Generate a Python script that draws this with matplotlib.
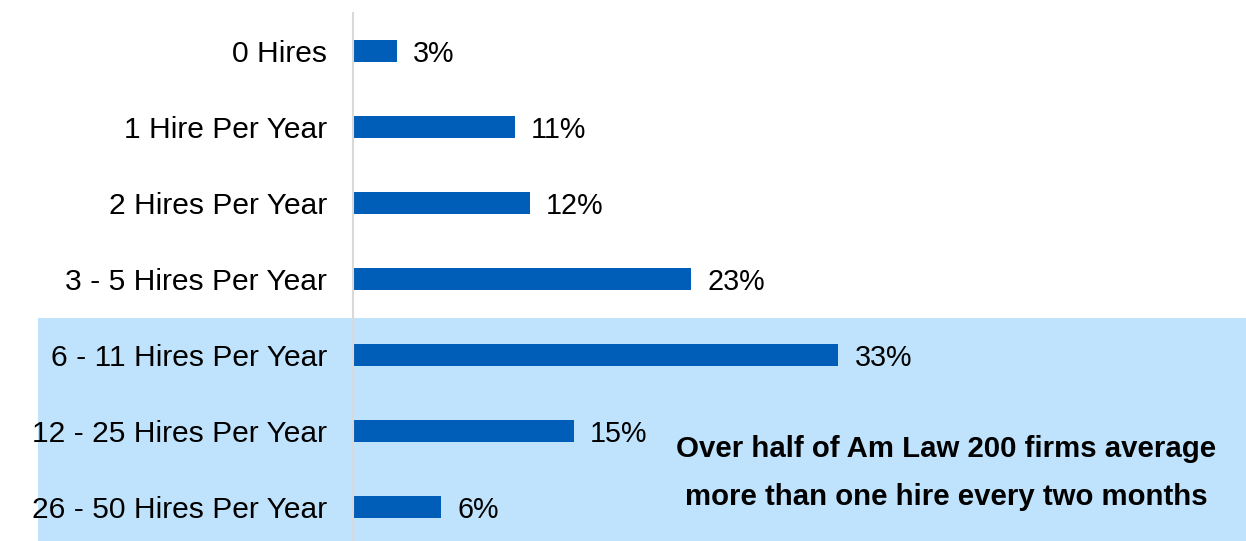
import matplotlib
matplotlib.use('Agg')
import matplotlib.pyplot as plt
from matplotlib.patches import Rectangle

plt.rcParams['font.family'] = ['Liberation Sans', 'DejaVu Sans']

# Data
categories = ['0 Hires', '1 Hire Per Year', '2 Hires Per Year', '3 - 5 Hires Per Year',
              '6 - 11 Hires Per Year', '12 - 25 Hires Per Year', '26 - 50 Hires Per Year']
shares = [3, 11, 12, 23, 33, 15, 6]
note = 'Over half of Am Law 200 firms average\nmore than one hire every two months'

W, H = 1246, 541
fig = plt.figure(figsize=(W / 100, H / 100), dpi=100)

# light blue highlight box behind the last three rows
fig.add_artist(Rectangle((38 / W, 0), 1 - 38 / W, (H - 318) / H,
                         transform=fig.transFigure, facecolor='#bfe3fc',
                         edgecolor='none', zorder=0))

ax = fig.add_axes([353 / W, 0, 1 - 353 / W, (H - 13) / H])
ax.set_facecolor('none')
ax.set_zorder(1)

pos = list(range(len(categories)))
ax.barh(pos, shares, height=0.29, color='#005eb8')
for p, v in zip(pos, shares):
    ax.annotate(f'{v}%', (v, p), xytext=(11.5, 0), textcoords='offset points',
                va='center_baseline', ha='left', fontsize=20.7)

ax.set_ylim(6.45, -0.5)
ax.set_xlim(0, 60.7)
ax.set_yticks(pos)
ax.set_yticklabels(categories, fontsize=21.6, va='center_baseline')
ax.tick_params(axis='y', length=0, pad=18.5)
ax.set_xticks([])
for s in ['top', 'right', 'bottom']:
    ax.spines[s].set_visible(False)
ax.spines['left'].set_color('#d9d9d9')
ax.spines['left'].set_linewidth(1.5)

fig.text(946 / W, 1 - 473 / H, note, ha='center', va='center', fontsize=21.2,
         fontweight='bold', linespacing=1.93, zorder=2)

plt.savefig('out.png', dpi=100)
